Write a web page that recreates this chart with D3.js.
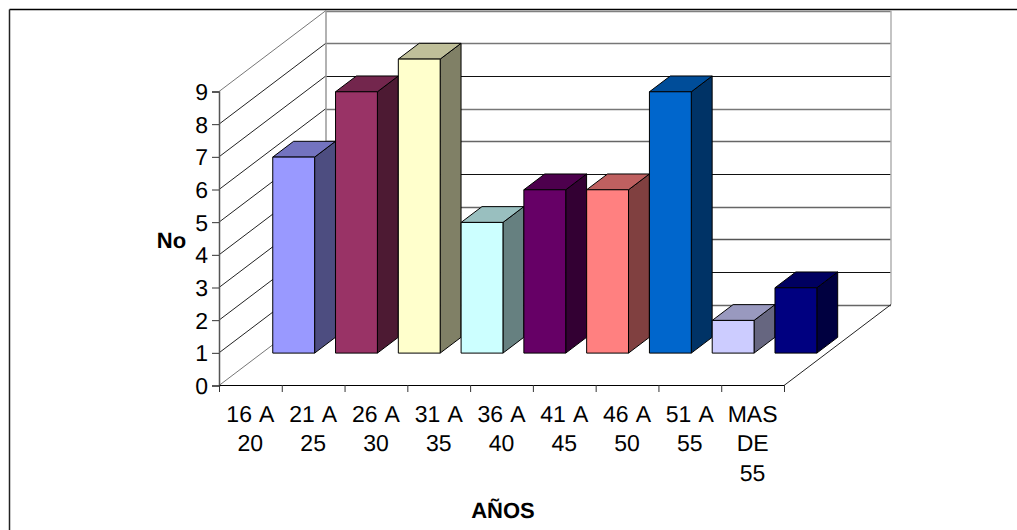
<!DOCTYPE html>
<html>
<head>
<meta charset="utf-8">
<script src="https://cdnjs.cloudflare.com/ajax/libs/d3/7.8.5/d3.min.js"></script>
<style>
    html, body { margin: 0; padding: 0; background: #fff; }
    svg { display: block; }
    text { font-family: "Liberation Sans", Arial, sans-serif; fill: #000; text-rendering: geometricPrecision; }
</style>
</head>
<body>
<svg id="chart" width="1017" height="530"></svg>
<script>
const categories = [["16 A", "20"], ["21 A", "25"], ["26 A", "30"], ["31 A", "35"], ["36 A", "40"],
    ["41 A", "45"], ["46 A", "50"], ["51 A", "55"], ["MAS", "DE", "55"]];
const values = [6, 8, 9, 4, 5, 5, 8, 1, 2];
const barColors = ["#9999FF", "#993366", "#FFFFCC", "#CCFFFF", "#660066", "#FF8080", "#0066CC", "#CCCCFF", "#000080"];
const yTicks = [0, 1, 2, 3, 4, 5, 6, 7, 8, 9];
const gridColors = ["#666", "#111", "#555", "#666", "#111", "#666", "#777", "#111", "#777", "#808080"];

const FONT_SIZE = 23;
const DEPTH_X = 107;
const DEPTH_Y = 81;
const BAR_DEPTH_FRONT = 0.4;
const BAR_DEPTH_BACK = 0.595;

let svg = d3.select("#chart");
let ids = categories.map((c, i) => i);

let x = d3.scaleBand().domain(ids).range([219, 784]);
let xBar = d3.scaleBand().domain(ids).range([219.5, 784.5]).paddingInner(1 / 3).paddingOuter(1 / 6);
let y = d3.scaleLinear().domain([0, 9]).range([385.5, 91.5]);

function project(px, val, depth) {
    return [px + depth * DEPTH_X, y(val) - depth * DEPTH_Y];
}

function poly(points, fill, stroke, width) {
    return svg.append("polygon")
        .attr("points", points.map(p => p.join(",")).join(" "))
        .attr("fill", fill)
        .attr("stroke", stroke)
        .attr("stroke-width", width);
}

function line(a, b, color, width) {
    return svg.append("line")
        .attr("x1", a[0]).attr("y1", a[1])
        .attr("x2", b[0]).attr("y2", b[1])
        .attr("stroke", color)
        .attr("stroke-width", width);
}

// outer frame, only top and left are in the picture
line([9.5, 9.5], [1017, 9.5], "#000", 1.5);
line([9.5, 9.5], [9.5, 530], "#222", 1.5);

// walls
yTicks.forEach((t, i) => {
    let front = project(219, t, 0);
    let corner = project(219, t, 1);
    let back = project(784, t, 1);
    line(front, corner, i == 0 || i == 9 ? "#777" : "#222", 1);
    line([corner[0], Math.round(corner[1]) + 0.5], [back[0], Math.round(corner[1]) + 0.5], gridColors[i], gridColors[i] == "#111" ? 1 : 1.5);
});
line(project(219, 0, 1), project(219, 9, 1), "#999", 1.5);
line(project(784, 0, 1), project(784, 9, 1), "#b0b0b0", 1.5);
line(project(784, 0, 0), project(784, 0, 1), "#222", 1);

// bars, left to right so each one sits on the side of the last
values.forEach((v, i) => {
    let x0 = xBar(i);
    let x1 = x0 + xBar.bandwidth();
    let base = d3.rgb(barColors[i]);
    let shade = k => d3.rgb(base.r * k, base.g * k, base.b * k).formatHex();
    let a = BAR_DEPTH_FRONT, b = BAR_DEPTH_BACK;

    poly([project(x1, 0, a), project(x1, 0, b), project(x1, v, b), project(x1, v, a)], shade(0.5), "#000", 1);
    poly([project(x0, v, a), project(x1, v, a), project(x1, v, b), project(x0, v, b)], shade(0.75), "#000", 1);
    poly([project(x0, 0, a), project(x1, 0, a), project(x1, v, a), project(x0, v, a)], shade(1), "#000", 1);
});

// axes
let yAxis = svg.append("g")
    .attr("transform", "translate(219,0)")
    .call(d3.axisLeft(y).tickValues(yTicks).tickSize(7).tickPadding(4));
yAxis.select(".domain").attr("stroke", "#555").attr("stroke-width", 1.5);
yAxis.selectAll(".tick line").attr("stroke", "#333");
yAxis.selectAll("text")
    .attr("y", 0.5)
    .style("font-size", FONT_SIZE + "px")
    .style("font-family", '"Liberation Sans", Arial, sans-serif');

let xAxis = svg.append("g")
    .attr("transform", "translate(0,385)")
    .call(d3.axisBottom(d3.scaleLinear().domain([0, 9]).range([219, 784])).tickValues(yTicks).tickSize(7).tickFormat(""));
xAxis.select(".domain").attr("stroke", "#000").attr("stroke-width", 1);
xAxis.selectAll(".tick line").attr("stroke", "#333");

let catLabels = svg.append("g").selectAll("text").data(categories).join("text")
    .attr("text-anchor", "middle")
    .style("font-size", FONT_SIZE + "px")
    .style("word-spacing", "2px");
catLabels.selectAll("tspan").data((d, i) => d.map(s => ({ s, i }))).join("tspan")
    .attr("x", d => x(d.i) + x.bandwidth() / 2)
    .attr("y", (d, j) => 421.5 + j * 29.8)
    .text(d => d.s);

svg.append("text").attr("x", 171.5).attr("y", 248).attr("text-anchor", "middle")
    .style("font-size", "22px").style("font-weight", "bold").text("No");
svg.append("text").attr("x", 503).attr("y", 518).attr("text-anchor", "middle")
    .style("font-size", "22px").style("font-weight", "bold").text("AÑOS");
</script>
</body>
</html>
